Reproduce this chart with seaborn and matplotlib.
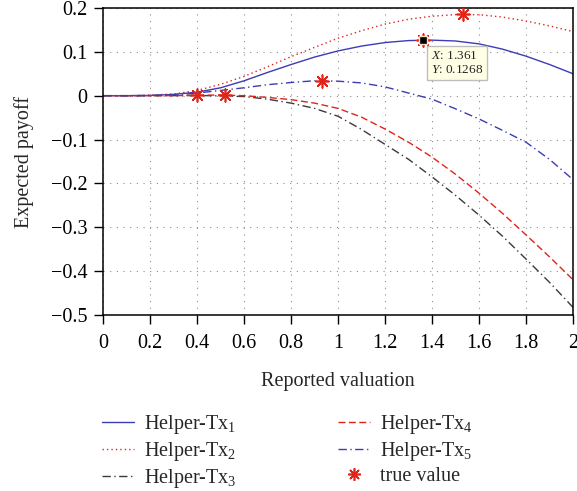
import numpy as np
import pandas as pd
import matplotlib
matplotlib.use("Agg")
import matplotlib.pyplot as plt
import seaborn as sns

# Reported valuation grid
valuation = [0.0, 0.1, 0.2, 0.3, 0.4, 0.5, 0.6, 0.7, 0.8, 0.9, 1.0,
             1.1, 1.2, 1.3, 1.4, 1.5, 1.6, 1.7, 1.8, 1.9, 2.0]

# Expected payoff of each helper transaction
tx1 = [0.0, 0.0, 0.0005, 0.003, 0.008, 0.018, 0.034, 0.053, 0.071, 0.088, 0.102,
       0.113, 0.121, 0.1255, 0.1265, 0.1245, 0.118, 0.106, 0.090, 0.071, 0.050]
tx2 = [0.0, 0.0, 0.001, 0.004, 0.012, 0.026, 0.044, 0.066, 0.089, 0.110, 0.131,
       0.148, 0.163, 0.174, 0.181, 0.1845, 0.1845, 0.179, 0.170, 0.159, 0.146]
tx3 = [0.0, 0.0, 0.0, 0.0, 0.0005, -0.0005, -0.002, -0.008, -0.017, -0.029, -0.047,
       -0.077, -0.111, -0.145, -0.185, -0.227, -0.272, -0.320, -0.372, -0.425, -0.482]
tx4 = [0.0, 0.0, 0.0, 0.0, 0.001, 0.0015, 0.000, -0.004, -0.009, -0.017, -0.029,
       -0.049, -0.076, -0.106, -0.140, -0.179, -0.222, -0.268, -0.317, -0.367, -0.419]
tx5 = [0.0, 0.0, 0.0005, 0.002, 0.006, 0.012, 0.018, 0.025, 0.030, 0.034, 0.033,
       0.029, 0.020, 0.006, -0.008, -0.030, -0.053, -0.079, -0.106, -0.145, -0.191]

# True valuations and the payoff reached there
true_x = [0.40, 0.52, 0.93, 1.361, 1.53]
true_y = [0.0005, 0.0015, 0.034, 0.1268, 0.185]

# Highlighted point
tip_x = 1.361
tip_y = 0.1268

x_ticks = [0, 0.2, 0.4, 0.6, 0.8, 1, 1.2, 1.4, 1.6, 1.8, 2]
x_tick_labels = ["0", "0.2", "0.4", "0.6", "0.8", "1", "1.2", "1.4", "1.6", "1.8", "2"]
y_ticks = [-0.5, -0.4, -0.3, -0.2, -0.1, 0, 0.1, 0.2]
y_tick_labels = ["\u22120.5", "\u22120.4", "\u22120.3", "\u22120.2", "\u22120.1", "0", "0.1", "0.2"]

sns.set_theme(style="ticks")
plt.rcParams["font.family"] = ["Liberation Serif", "DejaVu Serif"]
plt.rcParams["mathtext.fontset"] = "custom"
plt.rcParams["mathtext.rm"] = "Liberation Serif"
plt.rcParams["mathtext.it"] = "Liberation Serif:italic"

BLUE = "#3c3cb4"
RED = "#e2231a"
DARK = "#3a3a3a"
FS = 14.5

fig = plt.figure(figsize=(5.77, 4.91), dpi=100)
ax = fig.add_axes([0.179, 0.358, 0.814, 0.626])

series = [
    ("Helper-Tx$_1$", tx1, BLUE, "-"),
    ("Helper-Tx$_2$", tx2, RED, (0, (1, 2.2))),
    ("Helper-Tx$_3$", tx3, DARK, (0, (6, 2.5, 1, 2.5))),
    ("Helper-Tx$_4$", tx4, RED, (0, (5, 2.5))),
    ("Helper-Tx$_5$", tx5, BLUE, (0, (6, 2.5, 1, 2.5))),
]

handles = {}
for name, vals, color, ls in series:
    df = pd.DataFrame({"valuation": valuation, "payoff": vals})
    sns.lineplot(data=df, x="valuation", y="payoff", ax=ax, color=color,
                 linewidth=1.0, linestyle=ls, label=name, legend=False)
    handles[name] = ax.lines[-1]

star_df = pd.DataFrame({"valuation": true_x, "payoff": true_y})
sns.scatterplot(data=star_df, x="valuation", y="payoff", ax=ax, marker=(8, 2, 0),
                s=85, color=RED, linewidth=1.2, edgecolor=RED, zorder=5, legend=False)
star_handle = plt.Line2D([], [], linestyle="none", marker=(8, 2, 0), markersize=9,
                         color=RED, markeredgewidth=1.2)

# Data tip
ax.plot([tip_x], [tip_y], marker="s", markersize=6, color="black",
        markeredgecolor="#f4e0c0", markeredgewidth=1.0, zorder=6)
ax.annotate(f"$\\mathit{{X}}$: {tip_x:.3f}\n$\\mathit{{Y}}$: {tip_y:.4f}",
            xy=(tip_x, tip_y), xytext=(6, -7), textcoords="offset points",
            ha="left", va="top", fontsize=9.5, linespacing=1.3,
            bbox=dict(boxstyle="square,pad=0.3", fc="#ffffe6", ec="#bdbdbd", lw=1.0),
            zorder=7)

ax.set_xlim(0, 2)
ax.set_ylim(-0.5, 0.2)
ax.set_xticks(x_ticks)
ax.set_xticklabels(x_tick_labels)
ax.set_yticks(y_ticks)
ax.set_yticklabels(y_tick_labels)
ax.tick_params(axis="both", labelsize=FS, direction="out", length=6.5, width=1.0,
               colors="black", top=False, right=False)
ax.tick_params(axis="x", pad=7)
ax.tick_params(axis="y", pad=5)
ax.grid(True, color="#8c8c8c", linestyle=(0, (1, 5)), linewidth=0.8)
for side in ["left", "bottom", "top", "right"]:
    ax.spines[side].set_visible(True)
    ax.spines[side].set_color("black")
    ax.spines[side].set_linewidth(1.1)

ax.set_xlabel("Reported valuation", fontsize=FS, labelpad=14)
ax.set_ylabel("Expected payoff", fontsize=FS, labelpad=12)

order = ["Helper-Tx$_1$", "Helper-Tx$_2$", "Helper-Tx$_3$", "Helper-Tx$_4$", "Helper-Tx$_5$"]
leg_handles = [handles[n] for n in order] + [star_handle]
leg_labels = order + ["true value"]
fig.legend(leg_handles, leg_labels, ncol=2, loc="upper left",
           bbox_to_anchor=(0.163, 0.175), frameon=False, fontsize=FS,
           handlelength=1.6, handletextpad=0.5, columnspacing=5.0,
           labelspacing=0.2, borderaxespad=0)

fig.savefig("out.png", dpi=100)
